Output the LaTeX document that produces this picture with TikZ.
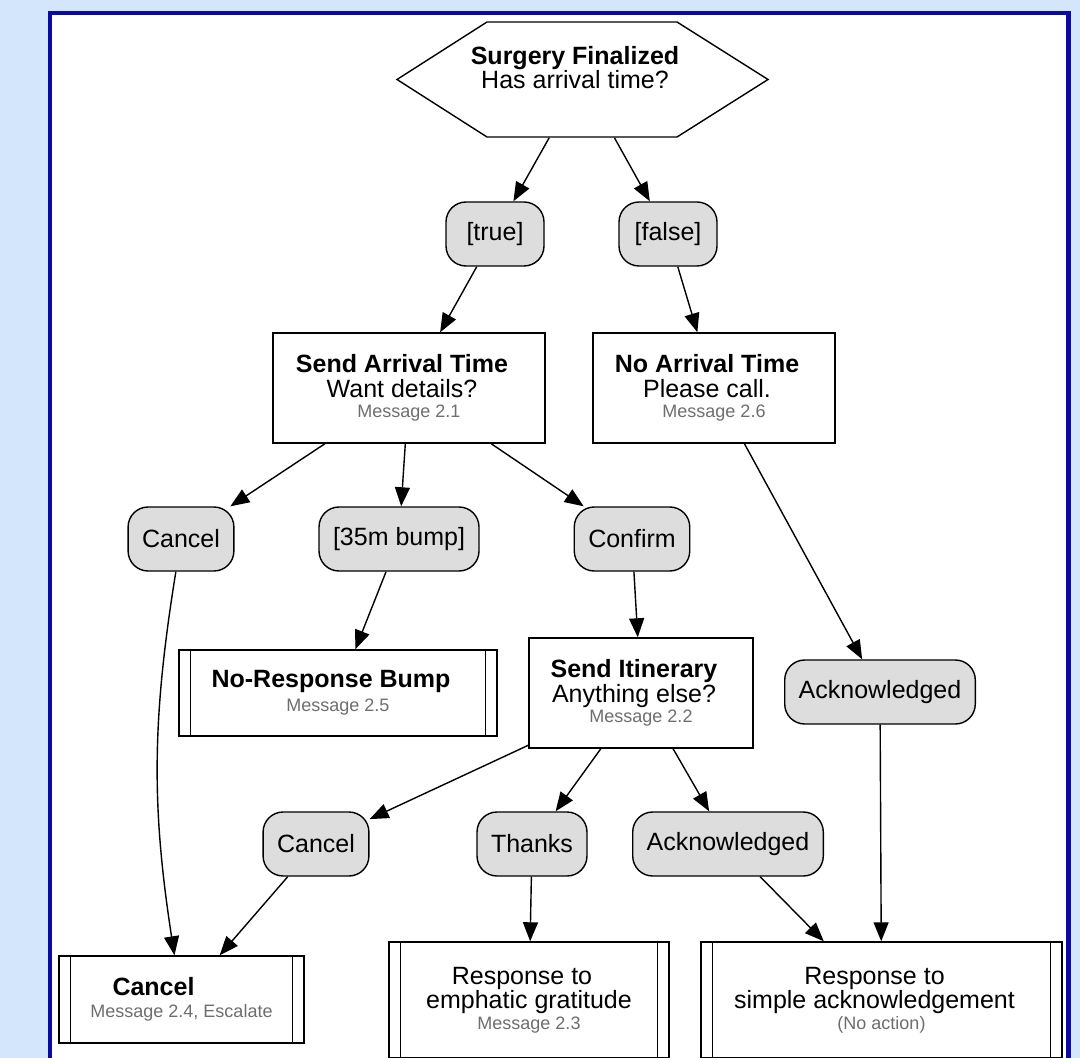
\documentclass[tikz,border=0pt]{standalone}
\usepackage{fontspec}
\setmainfont{Liberation Sans}
\usepackage{xcolor}
\usepackage{tikz}
\usetikzlibrary{arrows.meta}
\usetikzlibrary{calc}

\definecolor{bgblue}{RGB}{212,230,252}
\definecolor{frameblue}{RGB}{10,10,160}
\definecolor{pillgrey}{RGB}{221,221,221}
\definecolor{msggrey}{RGB}{110,110,110}
\newcommand{\msg}[1]{{\fontsize{9}{10}\selectfont\color{msggrey}#1}}
\newcommand{\pad}[1]{#1\rule{7pt}{0pt}}

\begin{document}
\begin{tikzpicture}[x=0.5pt,y=-0.5pt,
    font=\fontsize{12.5}{12.25}\selectfont,
    box/.style={draw,line width=0.7pt,fill=white,align=center,inner sep=0pt},
    sub/.style={box,path picture={
        \draw[line width=0.7pt] ([xshift=5.75pt]path picture bounding box.north west) -- ([xshift=5.75pt]path picture bounding box.south west)
            ([xshift=-5.75pt]path picture bounding box.north east) -- ([xshift=-5.75pt]path picture bounding box.south east);}},
    choice/.style={draw,line width=0.7pt,fill=pillgrey,rounded corners=10pt,minimum height=32pt,minimum width=49pt,inner xsep=7pt},
    flow/.style={line width=0.7pt,-{Triangle[length=9.5pt,width=7.5pt]}}]
    \useasboundingbox (0,0) rectangle (1080,1058);
    \clip (0,0) rectangle (1080,1058);
    \fill[bgblue] (0,0) rectangle (1080,1058);
    \draw[frameblue,fill=white,line width=2.2pt] (50,13) rectangle (1068.5,1080);

    \node [box,draw=none,fill=none,minimum height=57.5pt] (surg) at (582,79.5) {\pad{\textbf{Surgery Finalized}}\\\pad{Has arrival time?}\\\mbox{}};
    \draw[line width=0.7pt] ($(surg)+(-95,-57.5)$) -- ($(surg)+(95,-57.5)$) -- ($(surg)+(186,0)$) -- ($(surg)+(95,57.5)$) -- ($(surg)+(-95,57.5)$) -- ($(surg)+(-185,0)$) -- cycle;
    \node [choice] (yes) at (495,234) {[true]};
    \node [choice] (no) at (668,234) {[false]};
    \node [box,minimum width=136pt,minimum height=55pt] (arrive) at (409,388) {\pad{\textbf{Send Arrival Time}}\\\pad{Want details?}\\[-2pt]\msg{Message 2.1}};
    \node [box,minimum width=121pt,minimum height=55pt] (noarrive) at (714,388) {\pad{\textbf{No Arrival Time}}\\\pad{Please call.}\\[-2pt]\msg{Message 2.6}};
    \node [choice] (cancelA) at (181,539) {Cancel};
    \node [choice] (bump) at (399,539) {[35m bump]};
    \node [choice] (confirm) at (632,539) {Confirm};
    \node [sub,minimum width=159pt,minimum height=43pt] (nobump) at (338,693) {\pad{\textbf{No-Response Bump}}\\[-0.5pt]\msg{Message 2.5}};
    \node [box,minimum width=112pt,minimum height=55pt] (itin) at (641,693) {\pad{\textbf{Send Itinerary}}\\\pad{Anything else?}\\[-2pt]\msg{Message 2.2}};
    \node [choice] (ackA) at (880,692) {Acknowledged};
    \node [choice] (cancelB) at (316,844) {Cancel};
    \node [choice] (thanks) at (532,844) {Thanks};
    \node [choice] (ackB) at (728,844) {Acknowledged};
    \node [sub,minimum width=122.5pt,minimum height=43.5pt] (cancelend) at (181.5,999.5) {\textbf{Cancel}\rule{28pt}{0pt}\\[-1pt]\msg{Message 2.4, Escalate}};
    \node [sub,minimum width=140pt,minimum height=58pt] (gratitude) at (529,1000) {\pad{Response to}\\emphatic gratitude\\[-2pt]\msg{Message 2.3}};
    \node [sub,minimum width=180.5pt,minimum height=58pt] (simple) at (881.5,1000) {\pad{Response to}\\\pad{simple acknowledgement}\\[-2pt]\msg{(No action)}};

    \draw[flow] (surg) -- (yes);
    \draw[flow] (surg) -- (no);
    \draw[flow] (yes) -- (arrive);
    \draw[flow] (no) -- (noarrive);
    \draw[flow] (arrive) -- (cancelA);
    \draw[flow] (arrive) -- (bump);
    \draw[flow] (arrive) -- (confirm);
    \draw[flow] (noarrive) -- (ackA);
    \draw[flow] (cancelA) to[bend right=9] (cancelend);
    \draw[flow] (bump) -- (nobump);
    \draw[flow] (confirm) -- (itin);
    \draw[flow] (itin) -- (cancelB);
    \draw[flow] (itin) -- (thanks);
    \draw[flow] (itin) -- (ackB);
    \draw[flow] (cancelB) -- (cancelend);
    \draw[flow] (thanks) -- (gratitude);
    \draw[flow] (ackB) -- (simple);
    \draw[flow] (ackA) -- (simple);
\end{tikzpicture}
\end{document}
